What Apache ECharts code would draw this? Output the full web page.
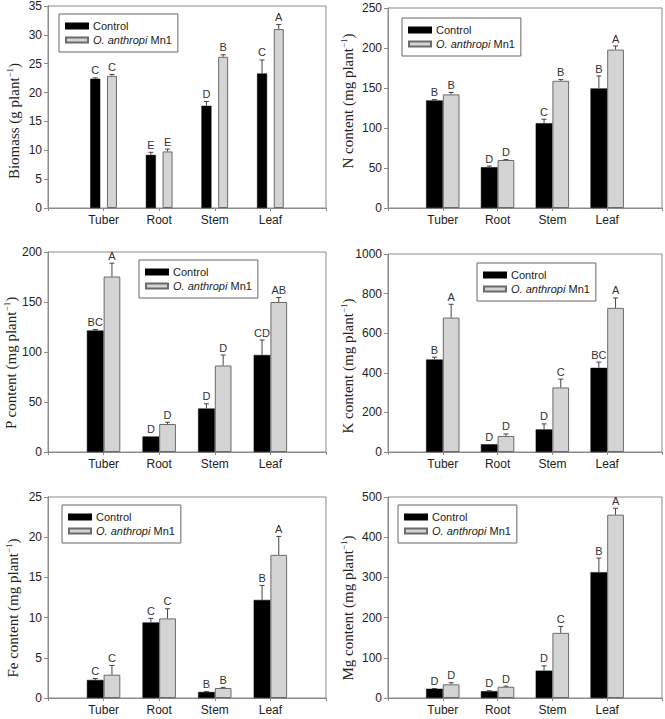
<!DOCTYPE html>
<html>
<head>
<meta charset="utf-8">
<script src="https://cdn.jsdelivr.net/npm/echarts@6/dist/echarts.min.js"></script>
<style>
html,body{margin:0;padding:0;background:#fff;}
#wrap{position:relative;width:665px;height:719px;overflow:hidden;}
.panel{position:absolute;}
</style>
</head>
<body>
<div id="wrap"></div>
<script>
// ---------- data ----------
const categories = ['Tuber', 'Root', 'Stem', 'Leaf'];
const seriesNames = ['Control', 'O. anthropi Mn1'];

const biomassControl = [22.4, 9.2, 17.7, 23.3];
const biomassControlErr = [0.15, 0.45, 0.75, 2.35];
const biomassMn1 = [22.9, 9.8, 26.2, 31.0];
const biomassMn1Err = [0.25, 0.4, 0.35, 0.8];
const biomassControlLetters = ['C', 'E', 'D', 'C'];
const biomassMn1Letters = ['C', 'E', 'B', 'A'];

const nControl = [134.5, 51, 106, 149.5];
const nControlErr = [1, 1.5, 5, 15.5];
const nMn1 = [142, 60, 159, 198];
const nMn1Err = [2.5, 0.5, 1.5, 4.5];
const nControlLetters = ['B', 'D', 'C', 'B'];
const nMn1Letters = ['B', 'D', 'B', 'A'];

const pControl = [121.5, 15.5, 43.5, 97];
const pControlErr = [1, 0, 4.7, 15];
const pMn1 = [175.5, 28, 86.5, 150];
const pMn1Err = [13.3, 1.8, 10.5, 4.5];
const pControlLetters = ['BC', 'D', 'D', 'CD'];
const pMn1Letters = ['A', 'D', 'D', 'AB'];

const kControl = [467, 39, 114, 425];
const kControlErr = [12, 0, 28, 29];
const kMn1 = [679, 81, 326, 728];
const kMn1Err = [67, 10, 42, 50];
const kControlLetters = ['B', 'D', 'D', 'BC'];
const kMn1Letters = ['A', 'D', 'C', 'A'];

const feControl = [2.25, 9.4, 0.75, 12.2];
const feControlErr = [0.17, 0.5, 0.05, 1.8];
const feMn1 = [2.9, 9.9, 1.24, 17.8];
const feMn1Err = [1.15, 1.2, 0.08, 2.3];
const feControlLetters = ['C', 'C', 'B', 'B'];
const feMn1Letters = ['C', 'C', 'B', 'A'];

const mgControl = [23, 17, 68, 313];
const mgControlErr = [0.5, 1, 12, 35];
const mgMn1 = [34, 28, 162, 456];
const mgMn1Err = [4, 1.5, 16, 16];
const mgControlLetters = ['D', 'D', 'D', 'B'];
const mgMn1Letters = ['D', 'D', 'C', 'A'];

// ---------- panels ----------
const panels = [
  {pos:[0,0,333,240], grid:[48,6,278,202], max:35, interval:5, title:'Biomass (g plant', barWidth:10, gap:6.7,
   title_xy:[14,121], legend:[59,14],
   c:biomassControl, ce:biomassControlErr, cl:biomassControlLetters, m:biomassMn1, me:biomassMn1Err, ml:biomassMn1Letters},
  {pos:[333,0,332,240], grid:[55,8,274,200], max:250, interval:50, title:'N content (mg plant', barWidth:16.7, gap:0,
   title_xy:[15,101], legend:[69,18],
   c:nControl, ce:nControlErr, cl:nControlLetters, m:nMn1, me:nMn1Err, ml:nMn1Letters},
  {pos:[0,240,333,240], grid:[48,12,278,200], max:200, interval:50, title:'P content (mg plant', barWidth:16.7, gap:0,
   title_xy:[11,123], legend:[139,20],
   c:pControl, ce:pControlErr, cl:pControlLetters, m:pMn1, me:pMn1Err, ml:pMn1Letters},
  {pos:[333,240,332,240], grid:[55,14,274,198], max:1000, interval:200, title:'K content (mg plant', barWidth:16.7, gap:0,
   title_xy:[15,126], legend:[144,23],
   c:kControl, ce:kControlErr, cl:kControlLetters, m:kMn1, me:kMn1Err, ml:kMn1Letters},
  {pos:[0,480,333,239], grid:[48,17,278,201], max:25, interval:5, title:'Fe content (mg plant', barWidth:16.7, gap:0,
   title_xy:[13,128], legend:[62,25],
   c:feControl, ce:feControlErr, cl:feControlLetters, m:feMn1, me:feMn1Err, ml:feMn1Letters},
  {pos:[333,480,332,239], grid:[55,17,275,201], max:500, interval:100, title:'Mg content (mg plant', barWidth:16.7, gap:0,
   title_xy:[15,128], legend:[65,25],
   c:mgControl, ce:mgControlErr, cl:mgControlLetters, m:mgMn1, me:mgMn1Err, ml:mgMn1Letters}
];

const axisCats = [''].concat(categories, ['']);
const pad = arr => [null].concat(arr, [null]);
const FRAME = '#8a8a8a';
const SANS = 'Liberation Sans, Arial, sans-serif';
const SERIF = 'Liberation Serif, Times New Roman, serif';

function errSeries(values, errs, letters, sign, p) {
  const offset = sign * (p.barWidth + p.gap) / 2;
  return {
    type: 'custom',
    silent: true,
    z: 5,
    data: values.map((v, i) => [i + 1, v, errs[i]]),
    renderItem: function (params, api) {
      const x = api.value(0), v = api.value(1), e = api.value(2);
      const b = api.coord([x, v]);
      const t = api.coord([x, v + e]);
      const cx = b[0] + offset;
      const children = [];
      if (e > 0) {
        children.push({type:'line', shape:{x1:cx, y1:b[1], x2:cx, y2:t[1]}, style:{stroke:'#444', lineWidth:1}});
        children.push({type:'line', shape:{x1:cx-2.5, y1:t[1], x2:cx+2.5, y2:t[1]}, style:{stroke:'#444', lineWidth:1}});
      }
      children.push({type:'text', x: cx, y: t[1] - 2,
        style:{text: letters[params.dataIndex], fill:'#333', font:'11px ' + SANS, textAlign:'center', textVerticalAlign:'bottom'}});
      return {type:'group', children: children};
    }
  };
}

const wrap = document.getElementById('wrap');
panels.forEach(p => {
  const d = document.createElement('div');
  d.className = 'panel';
  d.style.left = p.pos[0] + 'px'; d.style.top = p.pos[1] + 'px';
  d.style.width = p.pos[2] + 'px'; d.style.height = p.pos[3] + 'px';
  wrap.appendChild(d);
  const chart = echarts.init(d, null, {renderer: 'svg'});
  chart.setOption({
    animation: false,
    grid: {left: p.grid[0], top: p.grid[1], width: p.grid[2], height: p.grid[3], show: true, borderColor: FRAME, borderWidth: 1, backgroundColor: 'transparent'},
    legend: {
      data: seriesNames, orient: 'vertical', left: p.legend[0], top: p.legend[1],
      itemWidth: 22, itemHeight: 5, itemGap: 2, icon: 'rect',
      padding: [6, 6, 6, 6], borderColor: '#666', borderWidth: 1, borderRadius: 0,
      selectedMode: false,
      textStyle: {fontSize: 11, lineHeight: 12, fontFamily: SANS, color: '#222', rich: {i: {fontStyle: 'italic', fontSize: 11, lineHeight: 12, fontFamily: SANS, color: '#222'}}},
      formatter: name => name === seriesNames[1] ? '{i|O. anthropi} Mn1' : name
    },
    xAxis: {
      type: 'category', data: axisCats, boundaryGap: false,
      axisLine: {lineStyle: {color: FRAME, width: 1}},
      axisTick: {show: true, length: 3, lineStyle: {color: FRAME}},
      axisLabel: {color: '#222', fontSize: 12, fontFamily: SANS, margin: 6, interval: 0},
      splitLine: {show: false}
    },
    yAxis: {
      type: 'value', min: 0, max: p.max, interval: p.interval,
      axisLine: {show: true, lineStyle: {color: FRAME, width: 1}},
      axisTick: {show: true, length: 4, lineStyle: {color: FRAME}},
      axisLabel: {color: '#222', fontSize: 12, fontFamily: SANS, margin: 6, formatter: v => String(v)},
      splitLine: {show: false}
    },
    graphic: [{
      type: 'text', x: p.title_xy[0], y: p.title_xy[1], rotation: Math.PI / 2,
      style: {
        text: p.title + '{sup|−1}' + ')',
        font: '15px ' + SERIF, fill: '#222', textAlign: 'center', textVerticalAlign: 'middle',
        rich: {sup: {fontSize: 9, fontFamily: SERIF, fill: '#222', verticalAlign: 'top', lineHeight: 17, padding: [0, 0, 0, 0]}}
      }
    }],
    series: [
      {name: seriesNames[0], type: 'bar', data: pad(p.c), barWidth: p.barWidth, barGap: (p.gap / p.barWidth * 100) + '%',
       itemStyle: {color: '#000', borderColor: '#000', borderWidth: 0.5}},
      {name: seriesNames[1], type: 'bar', data: pad(p.m), barWidth: p.barWidth, barGap: (p.gap / p.barWidth * 100) + '%',
       itemStyle: {color: '#d4d4d4', borderColor: '#6a6a6a', borderWidth: 1}},
      errSeries(p.c, p.ce, p.cl, -1, p),
      errSeries(p.m, p.me, p.ml, 1, p)
    ]
  });
});
</script>
</body>
</html>
